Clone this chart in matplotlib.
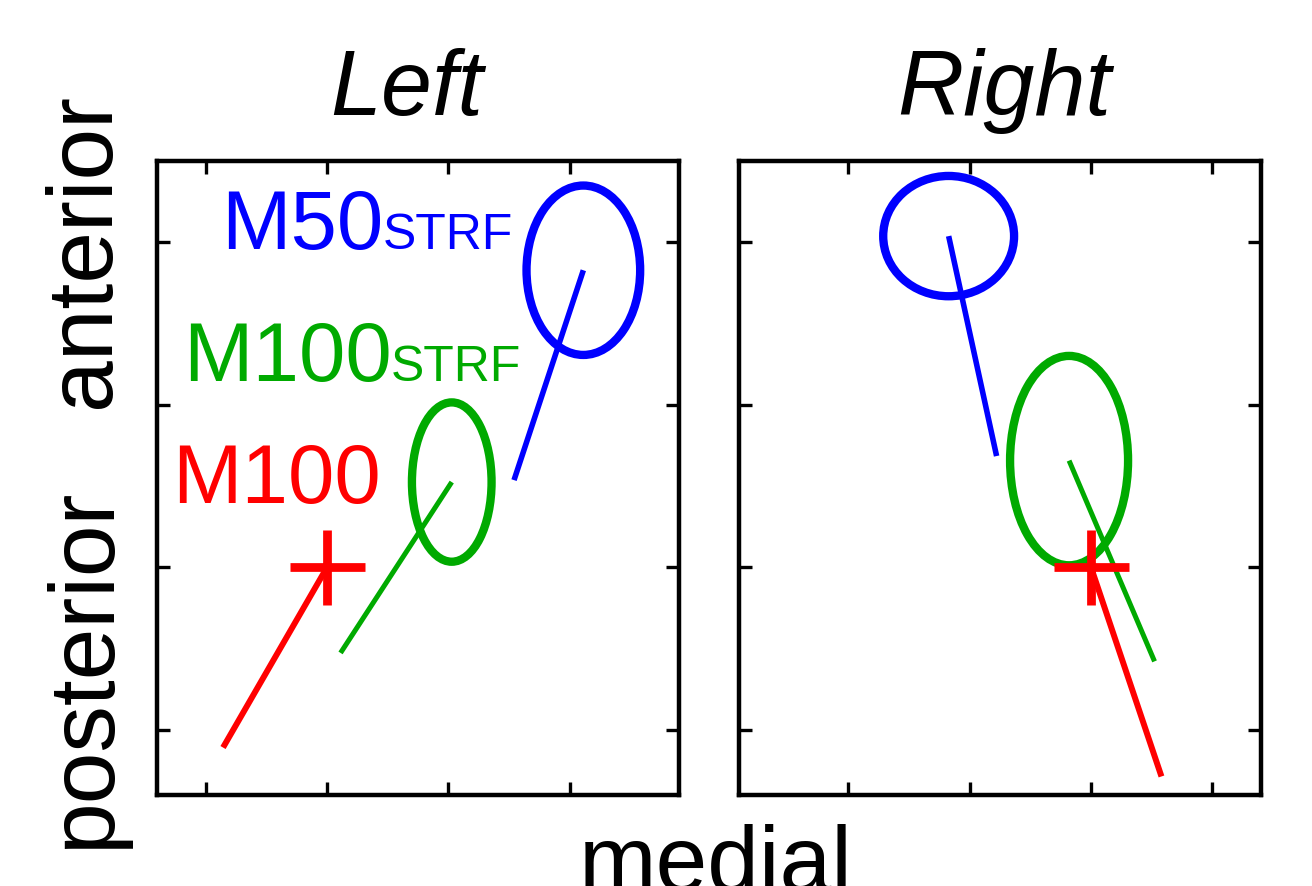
import matplotlib
matplotlib.use("Agg")
import matplotlib.pyplot as plt
from matplotlib.patches import Ellipse

plt.rcParams['font.family'] = ['Liberation Sans', 'DejaVu Sans']

# Source locations per hemisphere (arbitrary grid units, 1 tick = 1 unit)
# M100 dipole: marker position and the end of its orientation line
m100_left = (2.0, 2.0)
m100_left_tail = (1.144, 0.892)
m100_right = (3.0, 2.0)
m100_right_tail = (3.58, 0.714)

# M100 STRF: ellipse centre, half-widths, orientation line end
m100s_left = (3.028, 2.525)
m100s_left_radii = (0.328, 0.49)
m100s_left_tail = (2.112, 1.474)
m100s_right = (2.819, 2.657)
m100s_right_radii = (0.486, 0.644)
m100s_right_tail = (3.523, 1.422)

# M50 STRF
m50s_left = (4.112, 3.828)
m50s_left_radii = (0.468, 0.521)
m50s_left_tail = (3.541, 2.537)
m50s_right = (1.827, 4.038)
m50s_right_radii = (0.539, 0.370)
m50s_right_tail = (2.222, 2.685)

ticks = [1, 2, 3, 4]
titles = ["Left", "Right"]

RED = "#ff0000"
GREEN = "#00aa00"
BLUE = "#0000ff"

fig = plt.figure(figsize=(13.12, 8.86), dpi=100)
ax_l = fig.add_axes([157 / 1312, 91 / 886, 522 / 1312, 634 / 886])
ax_r = fig.add_axes([739 / 1312, 91 / 886, 522 / 1312, 634 / 886])


def draw_hemisphere(ax, m100, m100_tail, m100s, m100s_r, m100s_tail,
                    m50s, m50s_r, m50s_tail):
    # orientation lines
    ax.plot([m100_tail[0], m100[0]], [m100_tail[1], m100[1]],
            color=RED, lw=4.3, solid_capstyle='butt', zorder=2)
    ax.plot([m100s_tail[0], m100s[0]], [m100s_tail[1], m100s[1]],
            color=GREEN, lw=3.6, solid_capstyle='butt', zorder=2)
    ax.plot([m50s_tail[0], m50s[0]], [m50s_tail[1], m50s[1]],
            color=BLUE, lw=4.0, solid_capstyle='butt', zorder=2)
    # confidence ellipses
    ax.add_patch(Ellipse(m100s, 2 * m100s_r[0], 2 * m100s_r[1],
                         fill=False, ec=GREEN, lw=6.0, zorder=3))
    ax.add_patch(Ellipse(m50s, 2 * m50s_r[0], 2 * m50s_r[1],
                         fill=False, ec=BLUE, lw=6.0, zorder=3))
    # M100 location
    ax.plot([m100[0]], [m100[1]], marker='+', ms=54, mew=6.3,
            color=RED, zorder=4)


draw_hemisphere(ax_l, m100_left, m100_left_tail, m100s_left, m100s_left_radii,
                m100s_left_tail, m50s_left, m50s_left_radii, m50s_left_tail)
draw_hemisphere(ax_r, m100_right, m100_right_tail, m100s_right,
                m100s_right_radii, m100s_right_tail, m50s_right,
                m50s_right_radii, m50s_right_tail)

ax_l.set_xlim(0.6, 4.9)
ax_r.set_xlim(0.1, 4.4)
for ax, title, tx in zip([ax_l, ax_r], titles, [0.478, 0.508]):
    ax.set_ylim(0.6, 4.5)
    ax.set_xticks(ticks)
    ax.set_yticks(ticks)
    ax.set_xticklabels([])
    ax.set_yticklabels([])
    ax.tick_params(direction='in', length=9.5, width=2.4, top=True, right=True,
                   color='black')
    for sp in ax.spines.values():
        sp.set_linewidth(3.2)
    ax.set_title(title, fontsize=66, fontstyle='italic', pad=33, x=tx)

# component labels
ax_l.text(1.127, 3.961, "M50", color=BLUE, fontsize=60, va='baseline')
ax_l.text(2.461, 3.961, "STRF", color=BLUE, fontsize=36, va='baseline')
ax_l.text(0.815, 3.147, "M100", color=GREEN, fontsize=60, va='baseline')
ax_l.text(2.523, 3.147, "STRF", color=GREEN, fontsize=36, va='baseline')
ax_l.text(0.725, 2.396, "M100", color=RED, fontsize=60, va='baseline')

# direction labels
fig.text(109 / 1312, 636 / 886, "anterior", rotation=90, rotation_mode='anchor',
         ha='center', va='baseline', fontsize=67)
fig.text(109 / 1312, 218 / 886, "posterior", rotation=90, rotation_mode='anchor',
         ha='center', va='baseline', fontsize=67)
fig.text(716 / 1312, -5 / 886, "medial", ha='center', va='baseline', fontsize=67)

fig.savefig("out.png", dpi=100)
